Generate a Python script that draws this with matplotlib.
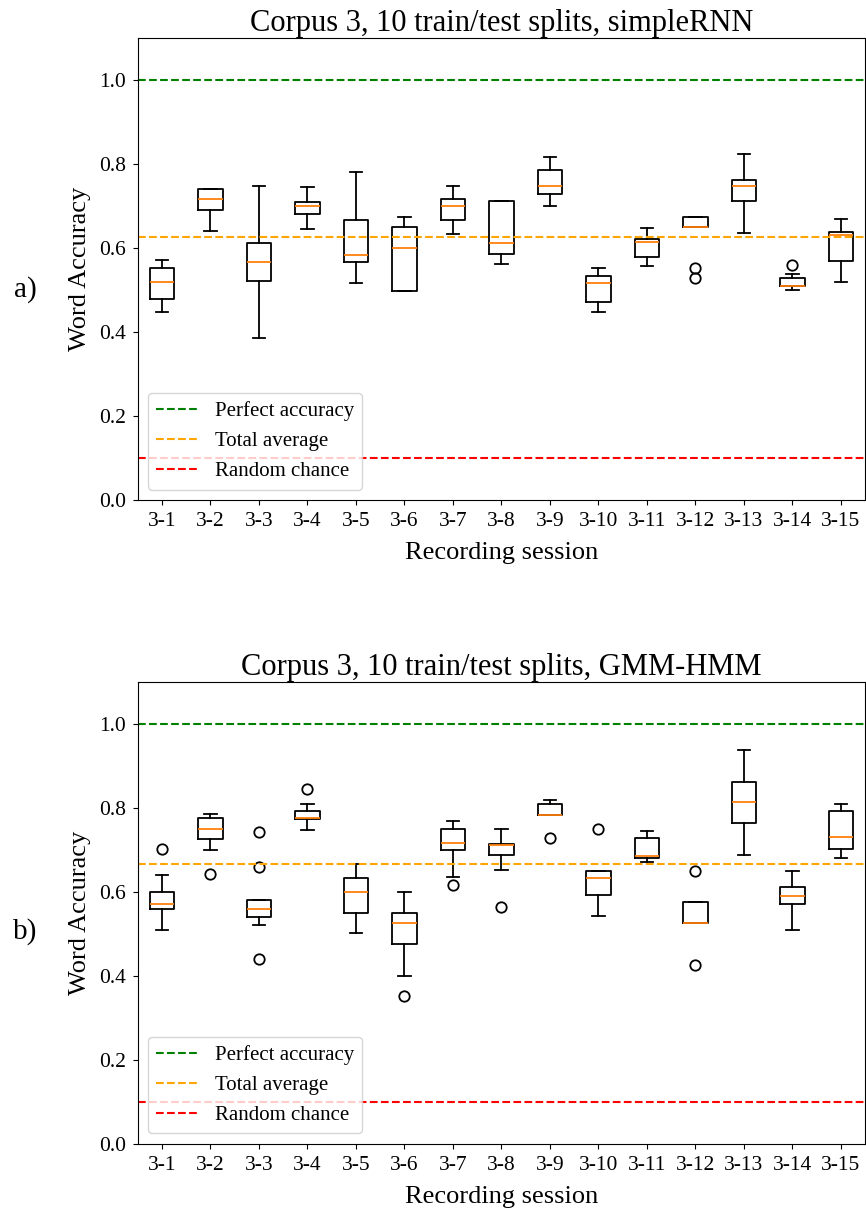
import matplotlib
matplotlib.use("Agg")
import matplotlib.pyplot as plt

plt.rcParams['font.family'] = ['Liberation Serif', 'DejaVu Serif']

sessions = [f"3-{i}" for i in range(1, 16)]

# simpleRNN, per session: whisker low, q1, median, q3, whisker high, outliers
rnn_whislo = [0.447, 0.640, 0.385, 0.645, 0.516, 0.498, 0.633, 0.562, 0.701, 0.447, 0.556, 0.649, 0.636, 0.499, 0.518]
rnn_q1 = [0.478, 0.690, 0.521, 0.680, 0.566, 0.498, 0.666, 0.586, 0.729, 0.472, 0.578, 0.649, 0.712, 0.510, 0.568]
rnn_med = [0.520, 0.716, 0.567, 0.699, 0.583, 0.599, 0.699, 0.611, 0.748, 0.517, 0.614, 0.649, 0.748, 0.510, 0.631]
rnn_q3 = [0.552, 0.740, 0.612, 0.709, 0.666, 0.649, 0.716, 0.712, 0.786, 0.534, 0.621, 0.674, 0.761, 0.529, 0.638]
rnn_whishi = [0.571, 0.740, 0.748, 0.744, 0.782, 0.674, 0.748, 0.712, 0.816, 0.552, 0.648, 0.674, 0.824, 0.539, 0.668]
rnn_fliers = [[], [], [], [], [], [], [], [], [], [], [], [0.552, 0.528], [], [0.560], []]
rnn_avg = 0.625

# GMM-HMM
gmm_whislo = [0.510, 0.700, 0.521, 0.747, 0.501, 0.400, 0.635, 0.651, 0.782, 0.542, 0.671, 0.526, 0.687, 0.510, 0.680]
gmm_q1 = [0.560, 0.725, 0.541, 0.773, 0.550, 0.476, 0.700, 0.687, 0.782, 0.592, 0.680, 0.526, 0.763, 0.571, 0.701]
gmm_med = [0.571, 0.750, 0.560, 0.775, 0.600, 0.526, 0.717, 0.712, 0.782, 0.633, 0.686, 0.526, 0.814, 0.591, 0.730]
gmm_q3 = [0.600, 0.776, 0.580, 0.791, 0.633, 0.550, 0.750, 0.713, 0.810, 0.650, 0.729, 0.575, 0.862, 0.611, 0.791]
gmm_whishi = [0.639, 0.784, 0.580, 0.809, 0.667, 0.600, 0.768, 0.750, 0.818, 0.650, 0.744, 0.575, 0.937, 0.650, 0.810]
gmm_fliers = [[0.701], [0.642], [0.741, 0.660, 0.440], [0.845], [], [0.351], [0.617], [0.563], [0.728], [0.750],
              [], [0.650, 0.425], [], [], []]
gmm_avg = 0.665

models = ["simpleRNN", "GMM-HMM"]
panel_labels = ["a)", "b)"]
perfect = 1.0
chance = 0.1

panels = [(rnn_whislo, rnn_q1, rnn_med, rnn_q3, rnn_whishi, rnn_fliers, rnn_avg),
          (gmm_whislo, gmm_q1, gmm_med, gmm_q3, gmm_whishi, gmm_fliers, gmm_avg)]

fig = plt.figure(figsize=(8.66, 12.13), dpi=100)
axs = [fig.add_axes([0.159, 0.5878, 0.8401, 0.3809]),
       fig.add_axes([0.159, 0.0571, 0.8401, 0.3809])]

for i_p, (whislo, q1, med, q3, whishi, fliers, avg) in enumerate(panels):
    ax = axs[i_p]
    stats = []
    for i in range(len(sessions)):
        stats.append({"label": sessions[i], "whislo": whislo[i], "q1": q1[i], "med": med[i],
                      "q3": q3[i], "whishi": whishi[i], "fliers": fliers[i]})
    ax.bxp(stats, showfliers=True,
           boxprops=dict(linewidth=1.3),
           whiskerprops=dict(linewidth=1.3),
           capprops=dict(linewidth=1.3),
           medianprops=dict(color="C1", linewidth=1.3),
           flierprops=dict(marker="o", markersize=7.5, markerfacecolor="none", markeredgewidth=1.3))
    ax.axhline(perfect, color="green", linestyle="--", linewidth=1.5, label="Perfect accuracy")
    ax.axhline(avg, color="orange", linestyle="--", linewidth=1.5, label="Total average")
    ax.axhline(chance, color="red", linestyle="--", linewidth=1.5, label="Random chance")
    ax.set_ylim(0, 1.1)
    ax.set_yticks([0.0, 0.2, 0.4, 0.6, 0.8, 1.0])
    ax.tick_params(labelsize=15.5, pad=5)
    ax.set_title(f"Corpus 3, 10 train/test splits, {models[i_p]}", fontsize=22, pad=5)
    ax.set_xlabel("Recording session", fontsize=19, labelpad=8)
    ax.set_ylabel("Word Accuracy", fontsize=19, labelpad=6)
    ax.legend(loc="lower left", fontsize=15)
    fig.text(0.029, 1 - (290 if i_p == 0 else 932) / 1213, panel_labels[i_p], fontsize=21, ha="center", va="center")

plt.savefig("out.png", dpi=100)
